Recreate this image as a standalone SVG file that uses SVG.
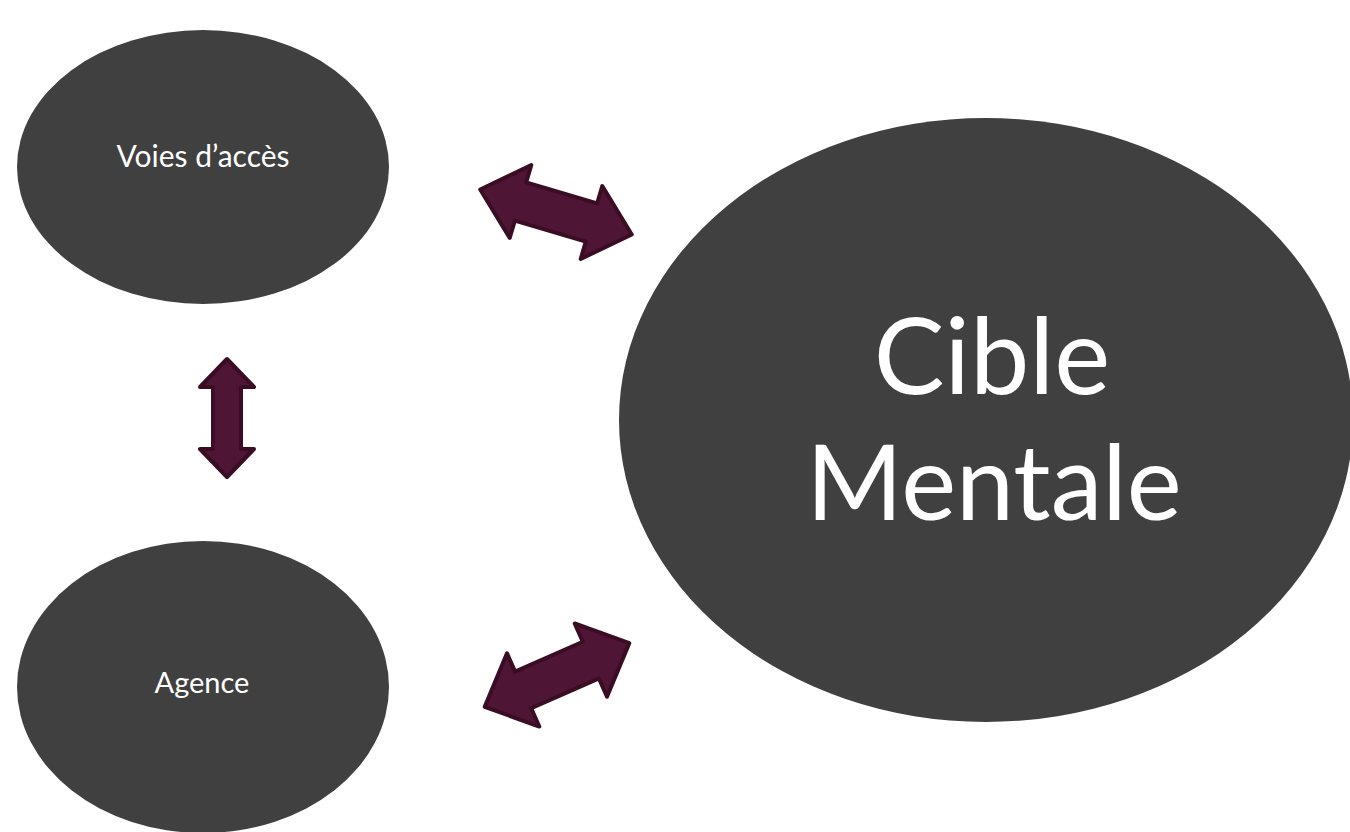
<svg xmlns="http://www.w3.org/2000/svg" width="1350" height="832" viewBox="0 0 1350 832">
<style>
.node{fill:#404040;}
.lbl{fill:#ffffff;font-family:Lato,"Open Sans","Liberation Sans",sans-serif;text-anchor:middle;}
.arr{fill:#4e1535;stroke:#3a0d24;stroke-width:4;stroke-linejoin:round;}
</style>
<rect width="1350" height="832" fill="#ffffff"/>
<g id="voies">
<ellipse class="node" cx="203" cy="167" rx="186" ry="137"/>
<text class="lbl" x="203" y="167" font-size="30">Voies d’accès</text>
</g>
<g id="agence">
<ellipse class="node" cx="203" cy="687" rx="186" ry="146"/>
<text class="lbl" x="202" y="693" font-size="29">Agence</text>
</g>
<g id="cible">
<ellipse class="node" cx="986" cy="420" rx="367" ry="302"/>
<text class="lbl" x="992" y="394" font-size="106">Cible</text>
<text class="lbl" x="994" y="520" font-size="104">Mentale</text>
</g>
<g id="connectors">
<path class="arr" transform="translate(556,212) rotate(16.5)" d="M-79,0 L-37,-38 L-37,-20 L37,-20 L37,-38 L79,0 L37,38 L37,20 L-37,20 L-37,38 Z"/>
<path class="arr" transform="translate(227,418)" d="M0,-59 L27,-31 L14,-31 L14,31 L27,31 L0,59 L-27,31 L-14,31 L-14,-31 L-27,-31 Z"/>
<path class="arr" transform="translate(557,675) rotate(-23.8)" d="M-79,0 L-37,-40 L-37,-20 L37,-20 L37,-40 L79,0 L37,40 L37,20 L-37,20 L-37,40 Z"/>
</g>
</svg>
